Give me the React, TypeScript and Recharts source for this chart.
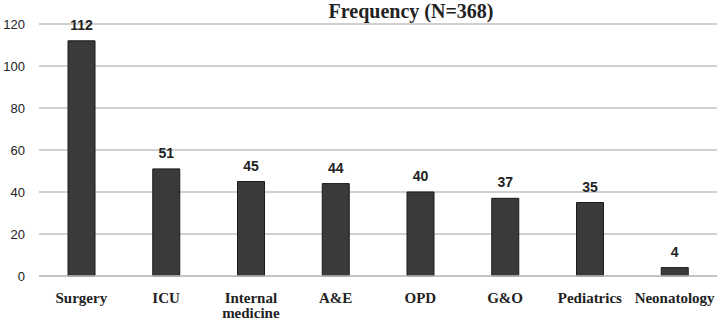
import React from 'react';
import { BarChart, Bar, XAxis, YAxis, CartesianGrid, LabelList } from 'recharts';

const departments = ['Surgery', 'ICU', 'Internal medicine', 'A&E', 'OPD', 'G&O', 'Pediatrics', 'Neonatology'];
const frequency = [112, 51, 45, 44, 40, 37, 35, 4];
const yTicks = [0, 20, 40, 60, 80, 100, 120];

const data = departments.map((name, i) => ({ name, value: frequency[i] }));

const SERIF = '"Liberation Serif", "Times New Roman", serif';
const SANS = '"Liberation Sans", Arial, sans-serif';

const CategoryTick = (props: any) => {
  const { x, y, payload } = props;
  const words: string[] = payload.value === 'Internal medicine' ? ['Internal', 'medicine'] : [payload.value];
  return (
    <text x={x} y={y} textAnchor="middle" fontFamily={SERIF} fontWeight="bold" fontSize={15} fill="#222">
      {words.map((w, i) => (
        <tspan key={w} x={x} dy={i === 0 ? 19 : 15}>{w}</tspan>
      ))}
    </text>
  );
};

export default function App() {
  return (
    <div style={{ position: 'absolute', left: 0, top: 0, background: '#fff' }}>
      <BarChart width={720} height={318} data={data} margin={{ top: 24, right: 3, bottom: 0, left: 0 }}>
        <text x={411} y={18} textAnchor="middle" fontFamily={SERIF} fontWeight="bold" fontSize={20} fill="#222">
          Frequency (N=368)
        </text>
        <CartesianGrid vertical={false} stroke="#c0c0c0" strokeWidth={1.3} />
        <XAxis
          dataKey="name"
          interval={0}
          height={42}
          axisLine={{ stroke: '#c0c0c0', strokeWidth: 1.3 }}
          tickLine={false}
          tick={<CategoryTick />}
        />
        <YAxis
          domain={[0, 120]}
          ticks={yTicks}
          width={39}
          axisLine={false}
          tickLine={false}
          tickSize={0}
          tickMargin={14}
          tick={{ fontFamily: SANS, fontSize: 13, fill: '#222' }}
        />
        <Bar dataKey="value" barSize={27} fill="#3a3a3a" stroke="#1a1a1a" strokeWidth={1} isAnimationActive={false}>
          <LabelList dataKey="value" position="top" offset={11} fontFamily={SANS} fontWeight="bold" fontSize={14} fill="#222" />
        </Bar>
      </BarChart>
    </div>
  );
}
